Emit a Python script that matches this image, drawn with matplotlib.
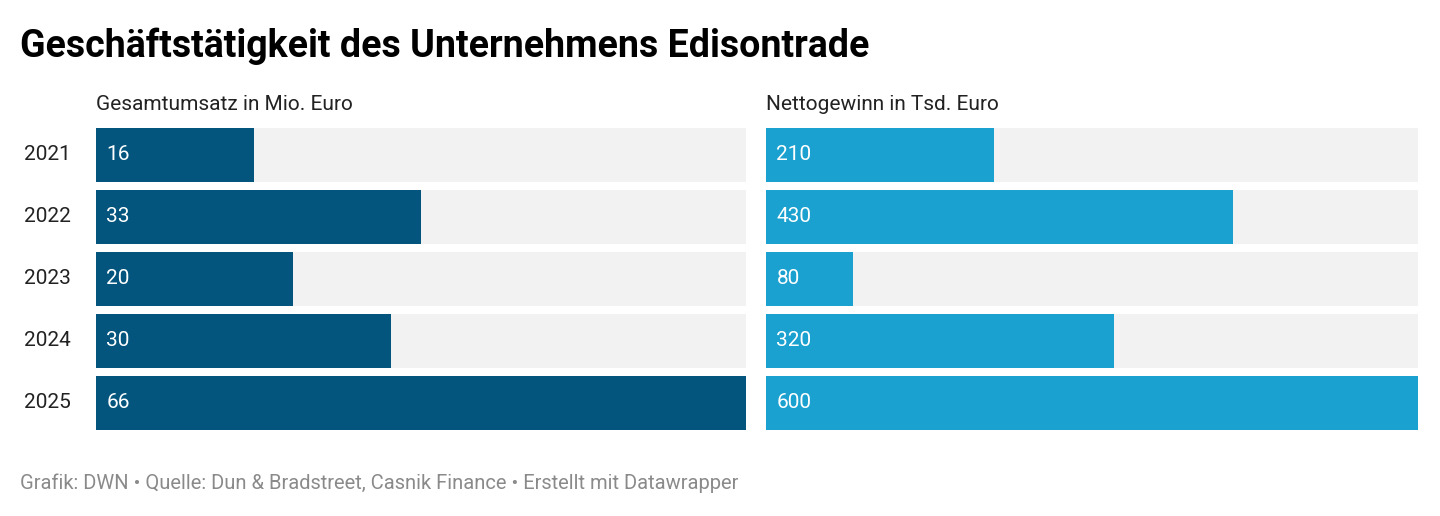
import matplotlib
matplotlib.use("Agg")
import matplotlib.pyplot as plt

plt.rcParams["font.family"] = ["Roboto", "DejaVu Sans"]

years = ["2021", "2022", "2023", "2024", "2025"]
umsatz = [16, 33, 20, 30, 66]
gewinn = [210, 430, 80, 320, 600]

W, H = 1440, 516
fig = plt.figure(figsize=(W / 100, H / 100), dpi=100)
fig.patch.set_facecolor("white")


def px_axes(x0, x1, top, bottom):
    return fig.add_axes([x0 / W, (H - bottom) / H, (x1 - x0) / W, (bottom - top) / H])


bh = 54 / 62
panels = [
    (96, 746, umsatz, 66, "#03557d", "Gesamtumsatz in Mio. Euro"),
    (766, 1418, gewinn, 600, "#1aa1cf", "Nettogewinn in Tsd. Euro"),
]
for i, (x0, x1, vals, vmax, color, label) in enumerate(panels):
    ax = px_axes(x0, x1, 128, 430)
    y = range(len(vals))
    ax.barh(y, [vmax] * len(vals), height=bh, color="#f2f2f2")
    ax.barh(y, vals, height=bh, color=color)
    for yy, v in zip(y, vals):
        ax.text(vmax * 0.016, yy, str(v), color="white", fontsize=15, va="center", ha="left")
    ax.set_xlim(0, vmax)
    ax.set_ylim(len(vals) - 1 + bh / 2, -bh / 2)
    ax.axis("off")
    fig.text(x0 / W, 1 - 104 / H, label, fontsize=15, va="center", ha="left", color="#222222")
    if i == 0:
        for yy, yr in zip(y, years):
            ax.text(-0.11 * vmax / 0.95 * 0.95, yy, yr, fontsize=15, va="center", ha="left",
                    color="#222222", clip_on=False)

fig.text(20 / W, 1 - 46 / H, "Geschäftstätigkeit des Unternehmens Edisontrade",
         fontsize=27, fontweight="bold", va="center", ha="left", color="black")
fig.text(20 / W, 1 - 483 / H,
         "Grafik: DWN • Quelle: Dun & Bradstreet, Casnik Finance • Erstellt mit Datawrapper",
         fontsize=14.5, va="center", ha="left", color="#8a8a8a")

fig.savefig("out.png", dpi=100)
